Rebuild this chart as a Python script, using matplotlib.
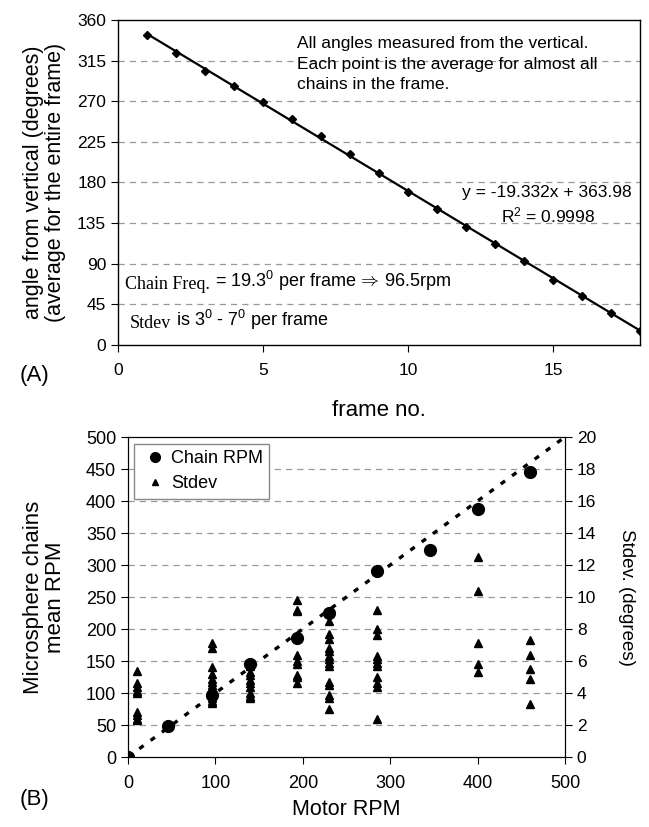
import matplotlib
matplotlib.use("Agg")
import matplotlib.pyplot as plt
import numpy as np
from matplotlib.lines import Line2D

plt.rcParams['font.family'] = ['Liberation Sans', 'DejaVu Sans']
plt.rcParams['mathtext.fontset'] = 'custom'
plt.rcParams['mathtext.rm'] = 'Liberation Sans'
plt.rcParams['mathtext.it'] = 'Liberation Sans:italic'

# panel A data
frames = np.arange(1, 19)
angles = [343.0, 323.9, 303.6, 287.1, 269.4, 250.3, 231.9, 211.6, 190.7,
          169.3, 150.2, 130.7, 112.3, 92.7, 72.5, 54.1, 35.0, 15.5]
slope = -19.332
intercept = 363.98
r2 = 0.9998

# panel B data
motor_rpm = [0, 46, 96, 140, 193, 230, 285, 345, 400, 460]
chain_rpm = [0, 48, 97, 145, 186, 225, 290, 323, 387, 445]

stdev = {
    10: [5.4, 4.6, 4.4, 4.1, 4.0, 2.8, 2.6, 2.4, 2.3],
    96: [7.1, 6.8, 5.6, 5.2, 4.9, 4.7, 4.5, 4.3, 4.1, 4.0, 3.8, 3.7, 3.5, 3.4],
    140: [5.7, 5.3, 5.1, 4.8, 4.6, 4.4, 4.0, 3.8, 3.7],
    193: [9.8, 9.2, 9.1, 6.4, 6.0, 5.8, 5.1, 5.0, 4.6],
    230: [8.5, 7.7, 7.4, 6.8, 6.6, 6.3, 6.1, 5.9, 5.7, 4.7, 4.5, 3.9, 3.7, 3.0],
    285: [9.2, 8.0, 7.6, 6.3, 6.1, 5.9, 5.7, 5.0, 4.6, 4.4, 2.4],
    400: [12.5, 10.4, 7.1, 5.8, 5.3],
    460: [7.3, 6.4, 5.5, 4.9, 3.3],
}

W, H = 649, 827
fig = plt.figure(figsize=(W / 100, H / 100), dpi=100)

def box(l, t, r, b):
    return [l / W, 1 - b / H, (r - l) / W, (b - t) / H]

grid_kw = dict(color='#999999', linestyle=(0, (5, 4)), linewidth=0.9)

# ---------- panel A ----------
ax1 = fig.add_axes(box(118, 20, 640, 345))
ax1.plot(frames, angles, 'D', color='black', markersize=4)
xf = np.array([frames[0], frames[-1]])
ax1.plot(xf, slope * xf + intercept, '-', color='black', linewidth=1.6)
ax1.set_xlim(0, 18)
ax1.set_ylim(0, 360)
ax1.set_yticks(np.arange(0, 361, 45))
ax1.set_xticks([0, 5, 10, 15])
for y in np.arange(45, 360, 45):
    ax1.axhline(y, zorder=0, **grid_kw)
ax1.tick_params(labelsize=12.5, direction='out', length=5)
ax1.tick_params(axis='x', pad=8)
ax1.set_xlabel('frame no.', fontsize=16, labelpad=16)
ax1.set_ylabel('angle from vertical (degrees)\n(average for the entire frame)',
               fontsize=15.5, linespacing=1.05, labelpad=8)
for s in ax1.spines.values():
    s.set_linewidth(1.0)

ax1.text(0.342, 0.95, 'All angles measured from the vertical.\n'
         'Each point is the average for almost all\nchains in the frame.',
         transform=ax1.transAxes, fontsize=12.5, va='top', ha='left',
         linespacing=1.45)
ax1.text(0.983, 0.468, 'y = %.3fx + %.2f' % (slope, intercept),
         transform=ax1.transAxes, fontsize=12.5, ha='right', va='center')
ax1.text(0.914, 0.40, 'R$^\\mathrm{2}$ = %.4f' % r2,
         transform=ax1.transAxes, fontsize=12.5, ha='right', va='center')

t1 = ax1.text(0.013, 0.173, 'Chain Freq.', transform=ax1.transAxes,
              fontsize=13, family='Liberation Serif', va='baseline')
ax1.annotate(' = 19.3$^\\mathrm{0}$ per frame$\\,{\\Rightarrow}\\,$96.5rpm', xy=(1, 0),
             xycoords=t1, va='bottom', ha='left', fontsize=13)
t2 = ax1.text(0.023, 0.052, 'Stdev', transform=ax1.transAxes,
              fontsize=13, family='Liberation Serif', va='baseline')
ax1.annotate(' is 3$^\\mathrm{0}$ - 7$^\\mathrm{0}$ per frame', xy=(1, 0),
             xycoords=t2, va='bottom', ha='left', fontsize=13)

fig.text(20 / W, 1 - 375 / H, '(A)', fontsize=16, va='center')

# ---------- panel B ----------
ax2 = fig.add_axes(box(128, 437, 565, 757))
ax3 = ax2.twinx()
ax2.set_xlim(0, 500)
ax2.set_ylim(0, 500)
ax3.set_ylim(0, 20)
ax2.set_xticks(np.arange(0, 501, 100))
ax2.set_yticks(np.arange(0, 501, 50))
ax3.set_yticks(np.arange(0, 21, 2))
for y in np.arange(50, 500, 50):
    ax2.axhline(y, zorder=0, **grid_kw)

ax2.plot([0, 500], [0, 500], color='black', linewidth=2.4,
         linestyle=(0, (1.6, 2.6)), zorder=2)
ax2.plot(motor_rpm, chain_rpm, 'o', color='black', markersize=8.5, zorder=3)
for m, vals in stdev.items():
    ax3.plot([m] * len(vals), vals, '^', color='black', markersize=6)

ax2.tick_params(labelsize=13, direction='out', length=5)
ax2.tick_params(axis='x', pad=8)
ax3.tick_params(labelsize=12.5, direction='out', length=5)
ax2.set_xlabel('Motor RPM', fontsize=15.5, labelpad=5)
ax2.set_ylabel('Microsphere chains\nmean RPM', fontsize=16, labelpad=14,
               linespacing=1.1)
ax3.set_ylabel('Stdev. (degrees)', fontsize=13.5, rotation=270, labelpad=28)

handles = [Line2D([], [], marker='o', color='black', linestyle='none', markersize=7),
           Line2D([], [], marker='^', color='black', linestyle='none', markersize=5)]
leg = ax2.legend(handles, ['Chain RPM', 'Stdev'], loc='upper left',
                 bbox_to_anchor=(0.005, 0.99), fontsize=13, fancybox=False,
                 framealpha=1, edgecolor='#888888', handletextpad=0.1,
                 borderpad=0.35, labelspacing=0.45, handlelength=1.6,
                 borderaxespad=0.2)
leg.get_frame().set_linewidth(1.0)

fig.text(20 / W, 1 - 800 / H, '(B)', fontsize=16, va='center')

fig.savefig('out.png', dpi=100)
